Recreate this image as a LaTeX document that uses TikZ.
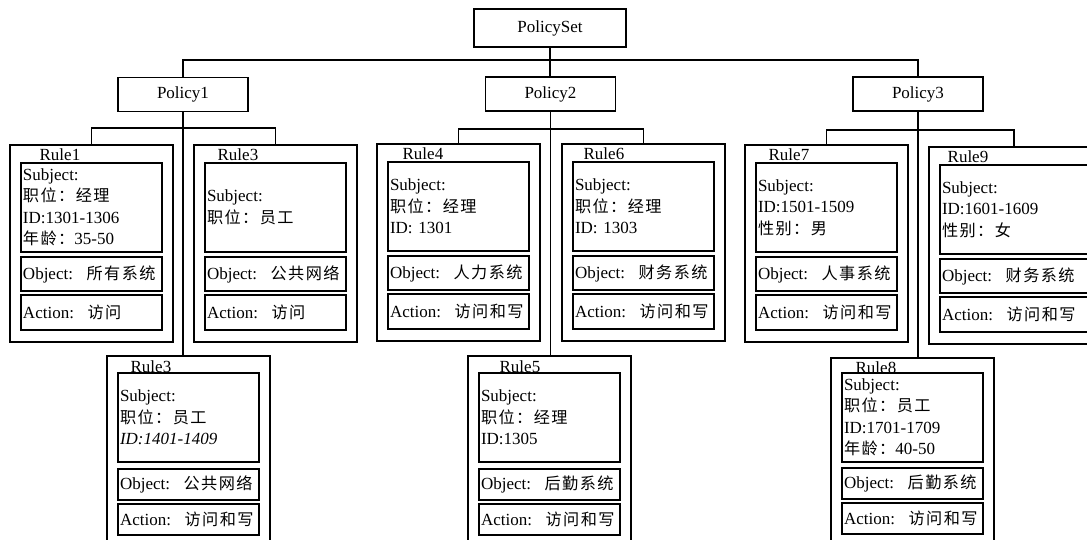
\documentclass[tikz,border=0pt]{standalone}
\usepackage{fontspec}
\setmainfont{Liberation Serif}
\newfontfamily\cjk[Scale=0.95,LetterSpace=9]{Noto Sans CJK SC}
\usepackage{tikz}
\usetikzlibrary{positioning}

\begin{document}
\begin{tikzpicture}[
  x=1pt, y=-1pt,
  line width=1.3pt,
  every node/.style={font=\fontsize{17}{21.5}\selectfont},
  policy/.style={draw, minimum width=130pt, minimum height=34pt, inner sep=0pt, outer sep=0pt},
  rulebox/.style={draw, anchor=north west, minimum width=163pt, minimum height=197pt, inner sep=0pt, outer sep=0pt},
  rulename/.style={anchor=base west, inner sep=0pt},
  subj/.style={draw, below=18pt of #1.north, text width=137pt, minimum height=89pt, align=left, inner xsep=2pt, inner ysep=1pt, outer sep=0pt},
  obj/.style={draw, below=5pt of #1, text width=137pt, minimum height=34pt, align=left, inner xsep=2pt, inner ysep=1pt, outer sep=0pt},
  act/.style={draw, below=4pt of #1, text width=137pt, minimum height=35pt, align=left, inner xsep=2pt, inner ysep=1pt, outer sep=0pt}
]
  \clip (0,0) rectangle (1087,540);

  % Radice
  \node[policy, minimum width=152pt, minimum height=38pt] (PS) at (550,28) {PolicySet};
  \node[policy] (P1) at (183,94.5) {Policy1};
  \node[policy] (P2) at (550.5,94) {Policy2};
  \node[policy] (P3) at (918,94) {Policy3};

  % --- Policy1 ---
  \node[rulebox] (R1) at (10,145) {};
  \node[rulename] at ([shift={(29pt,-16pt)}]R1.north west) {Rule1};
  \node[subj=R1] (R1s) {Subject:\\{\cjk 职位：经理}\\ID:1301-1306\\{\cjk 年龄：}35-50};
  \node[obj=R1s] (R1o) {Object:\nobreak\hspace{0.8em}{\cjk 所有系统}};
  \node[act=R1o] (R1a) {Action:\nobreak\hspace{0.8em}{\cjk 访问}};

  \node[rulebox] (R3) at (194,145) {};
  \node[rulename] at ([shift={(23pt,-16pt)}]R3.north west) {Rule3};
  \node[subj=R3] (R3s) {Subject:\\{\cjk 职位：员工}};
  \node[obj=R3s] (R3o) {Object:\nobreak\hspace{0.8em}{\cjk 公共网络}};
  \node[act=R3o] (R3a) {Action:\nobreak\hspace{0.8em}{\cjk 访问}};

  \node[rulebox] (R3b) at (107,356) {};
  \node[rulename] at ([shift={(23pt,-16pt)}]R3b.north west) {Rule3};
  \node[subj=R3b, below=17pt of R3b.north] (R3bs) {Subject:\\{\cjk 职位：员工}\\\textit{ID:1401-1409}};
  \node[obj=R3bs, below=7pt of R3bs, minimum height=31pt] (R3bo) {Object:\nobreak\hspace{0.8em}{\cjk 公共网络}};
  \node[act=R3bo, minimum height=31pt] (R3ba) {Action:\nobreak\hspace{0.8em}{\cjk 访问和写}};

  % --- Policy2 ---
  \node[rulebox] (R4) at (377,144) {};
  \node[rulename] at ([shift={(25pt,-16pt)}]R4.north west) {Rule4};
  \node[subj=R4] (R4s) {Subject:\\{\cjk 职位：经理}\\ID: 1301};
  \node[obj=R4s] (R4o) {Object:\nobreak\hspace{0.8em}{\cjk 人力系统}};
  \node[act=R4o] (R4a) {Action:\nobreak\hspace{0.8em}{\cjk 访问和写}};

  \node[rulebox] (R6) at (562,144) {};
  \node[rulename] at ([shift={(21pt,-16pt)}]R6.north west) {Rule6};
  \node[subj=R6] (R6s) {Subject:\\{\cjk 职位：经理}\\ID: 1303};
  \node[obj=R6s] (R6o) {Object:\nobreak\hspace{0.8em}{\cjk 财务系统}};
  \node[act=R6o] (R6a) {Action:\nobreak\hspace{0.8em}{\cjk 访问和写}};

  \node[rulebox] (R5) at (468,356) {};
  \node[rulename] at ([shift={(31pt,-16pt)}]R5.north west) {Rule5};
  \node[subj=R5, below=17pt of R5.north] (R5s) {Subject:\\{\cjk 职位：经理}\\ID:1305};
  \node[obj=R5s, below=7pt of R5s, minimum height=31pt] (R5o) {Object:\nobreak\hspace{0.8em}{\cjk 后勤系统}};
  \node[act=R5o, minimum height=31pt] (R5a) {Action:\nobreak\hspace{0.8em}{\cjk 访问和写}};

  % --- Policy3 ---
  \node[rulebox] (R7) at (745,145) {};
  \node[rulename] at ([shift={(23pt,-16pt)}]R7.north west) {Rule7};
  \node[subj=R7] (R7s) {Subject:\\ID:1501-1509\\{\cjk 性别：男}};
  \node[obj=R7s] (R7o) {Object:\nobreak\hspace{0.8em}{\cjk 人事系统}};
  \node[act=R7o] (R7a) {Action:\nobreak\hspace{0.8em}{\cjk 访问和写}};

  \node[rulebox, minimum width=170pt] (R9) at (929,147) {};
  \node[rulename] at ([shift={(18pt,-16pt)}]R9.north west) {Rule9};
  \node[subj=R9, text width=144pt] (R9s) {Subject:\\ID:1601-1609\\{\cjk 性别：女}};
  \node[obj=R9s, text width=144pt] (R9o) {Object:\nobreak\hspace{0.8em}{\cjk 财务系统}};
  \node[act=R9o, text width=144pt] (R9a) {Action:\nobreak\hspace{0.8em}{\cjk 访问和写}};

  \node[rulebox] (R8) at (831,358) {};
  \node[rulename] at ([shift={(24pt,-15pt)}]R8.north west) {Rule8};
  \node[subj=R8, below=15pt of R8.north] (R8s) {Subject:\\{\cjk 职位：员工}\\ID:1701-1709\\{\cjk 年龄：}40-50};
  \node[obj=R8s, below=6pt of R8s, minimum height=31pt] (R8o) {Object:\nobreak\hspace{0.8em}{\cjk 后勤系统}};
  \node[act=R8o, minimum height=31pt] (R8a) {Action:\nobreak\hspace{0.8em}{\cjk 访问和写}};

  % Collegamenti
  \coordinate (bus) at (550,60);
  \coordinate (br1) at (183,128);
  \coordinate (br2) at (551,129);
  \coordinate (br3) at (918,130);
  \draw (PS.south) -- (PS.south |- P2.north);
  \draw (P1.north) |- (bus) -| (P3.north);
  \draw (P1.south) -- (P1.south |- R3b.north);
  \draw (P2.south) -- (P2.south |- R5.north);
  \draw (P3.south) -- (P3.south |- R8.north);
  \draw (R1.north) |- (br1) -| (R3.north);
  \draw (R4.north) |- (br2) -| (R6.north);
  \draw (R7.north) |- (br3) -| (R9.north);
\end{tikzpicture}
\end{document}
